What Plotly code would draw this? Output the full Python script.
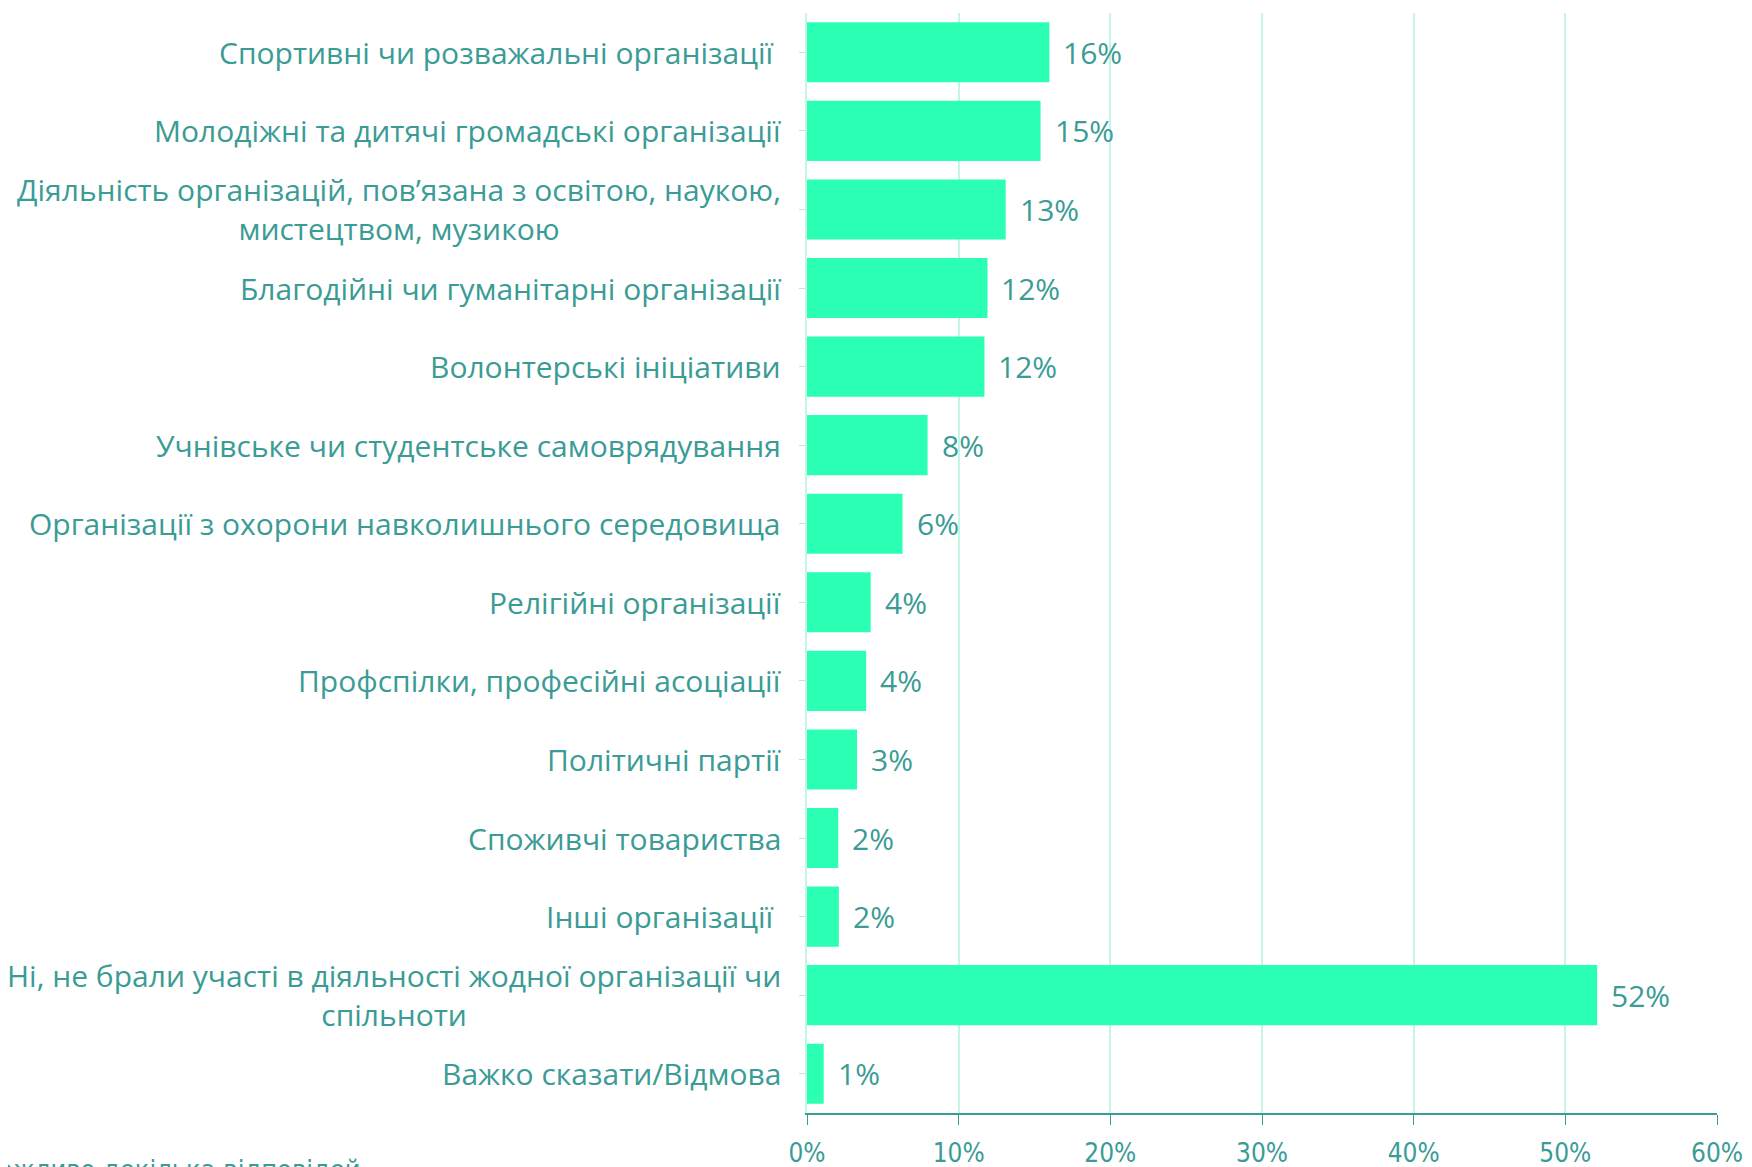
import plotly.graph_objects as go

categories = [
    "Спортивні чи розважальні організації\u00a0",
    "Молодіжні та дитячі громадські організації",
    "Діяльність організацій, пов’язана з освітою, наукою,<br>мистецтвом, музикою",
    "Благодійні чи гуманітарні організації",
    "Волонтерські ініціативи",
    "Учнівське чи студентське самоврядування",
    "Організації з охорони навколишнього середовища",
    "Релігійні організації",
    "Профспілки, професійні асоціації",
    "Політичні партії",
    "Споживчі товариства",
    "Інші організації\u00a0",
    "Ні, не брали участі в діяльності жодної організації чи<br>спільноти",
    "Важко сказати/Відмова",
]
values = [15.98, 15.4, 13.1, 11.9, 11.7, 7.95, 6.3, 4.2, 3.9, 3.3, 2.06, 2.1, 52.1, 1.1]
labels = ["16%", "15%", "13%", "12%", "12%", "8%", "6%", "4%", "4%", "3%", "2%", "2%", "52%", "1%"]
x_ticks = [0, 10, 20, 30, 40, 50, 60]
x_tick_text = ["0%", "10%", "20%", "30%", "40%", "50%", "60%"]
note = "*Можливо декілька відповідей"

teal = "#3b9b95"
bar_color = "#2bffb3"
narrow = "DejaVu Sans Condensed, Open Sans, sans-serif"

fig = go.Figure(go.Bar(
    x=values,
    y=categories,
    orientation="h",
    marker=dict(color=bar_color, line=dict(width=0)),
    cliponaxis=False,
))

# category labels as annotations so wrapped lines are centred
for cat in categories:
    fig.add_annotation(
        x=0, xref="paper", y=cat, yref="y",
        text=cat, showarrow=False, xanchor="right", align="center",
        xshift=-24,
        font=dict(family="Open Sans", size=30, color=teal),
    )

# value labels
for cat, v, lab in zip(categories, values, labels):
    fig.add_annotation(
        x=v, y=cat, text=lab, showarrow=False,
        xanchor="left", xshift=12,
        font=dict(family="Open Sans", size=30, color=teal),
    )

fig.add_annotation(
    x=-0.488, xref="paper", y=-0.035, yref="paper",
    text=note, showarrow=False, xanchor="right", yanchor="top",
    font=dict(family=narrow, size=27, color=teal),
)

# page body adds an 8px offset, margins compensate for it
fig.update_layout(
    width=1752, height=1167,
    margin=dict(l=799, r=43, t=5, b=62, autoexpand=False),
    paper_bgcolor="white", plot_bgcolor="white",
    bargap=0.235,
    showlegend=False,
    xaxis=dict(
        range=[0, 60], tickvals=x_ticks, ticktext=x_tick_text,
        showgrid=True, gridcolor="#c4f6e6", gridwidth=1.5,
        showline=True, linecolor=teal, linewidth=2,
        ticks="outside", ticklen=10, tickcolor=teal,
        tickfont=dict(family=narrow, size=26, color=teal),
        ticklabelstandoff=6, zeroline=False, automargin=False,
    ),
    yaxis=dict(
        categoryorder="array", categoryarray=categories[::-1],
        showticklabels=False,
        showline=True, linecolor="#c4f6e6", linewidth=1.5,
        ticks="outside", ticklen=6, tickcolor="#b8e6dc",
        showgrid=False, automargin=False,
    ),
)

fig.write_html("out.html")
